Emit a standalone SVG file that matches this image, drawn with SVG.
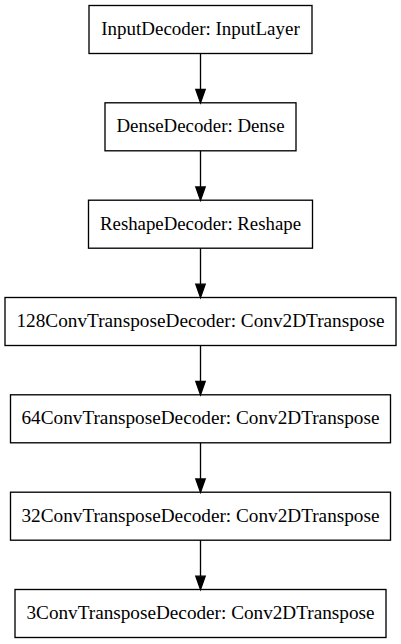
<svg xmlns="http://www.w3.org/2000/svg" width="401" height="644" viewBox="0 0 401 644">
<style>
.box{fill:none;stroke:#000;stroke-width:1.33}
.lbl{font-family:"Liberation Serif","Times New Roman",serif;font-size:19px;text-anchor:middle;fill:#000}
.edge{stroke:#000;stroke-width:1.33;fill:none}
.head{fill:#000;stroke:#000;stroke-width:1.33}
</style>
<rect width="401" height="644" fill="#fff"/>
<g id="connectors">
<line class="edge" x1="200.5" y1="53.5" x2="200.5" y2="89.5"/>
<polygon class="head" points="195.8,89.5 205.2,89.5 200.5,102.8"/>
<line class="edge" x1="200.5" y1="150.8" x2="200.5" y2="186.9"/>
<polygon class="head" points="195.8,186.9 205.2,186.9 200.5,200.2"/>
<line class="edge" x1="200.5" y1="248.2" x2="200.5" y2="284.2"/>
<polygon class="head" points="195.8,284.2 205.2,284.2 200.5,297.5"/>
<line class="edge" x1="200.5" y1="345.5" x2="200.5" y2="381.5"/>
<polygon class="head" points="195.8,381.5 205.2,381.5 200.5,394.8"/>
<line class="edge" x1="200.5" y1="442.8" x2="200.5" y2="478.9"/>
<polygon class="head" points="195.8,478.9 205.2,478.9 200.5,492.2"/>
<line class="edge" x1="200.5" y1="540.2" x2="200.5" y2="576.2"/>
<polygon class="head" points="195.8,576.2 205.2,576.2 200.5,589.5"/>
</g>
<g id="n1"><rect class="box" x="89" y="5.5" width="223" height="48"/><text class="lbl" x="200.5" y="35.1" textLength="198.5" lengthAdjust="spacingAndGlyphs">InputDecoder: InputLayer</text></g>
<g id="n2"><rect class="box" x="105" y="102.8" width="191" height="48"/><text class="lbl" x="200.5" y="132.4" textLength="168" lengthAdjust="spacingAndGlyphs">DenseDecoder: Dense</text></g>
<g id="n3"><rect class="box" x="88.5" y="200.2" width="224" height="48"/><text class="lbl" x="200.5" y="229.8" textLength="201" lengthAdjust="spacingAndGlyphs">ReshapeDecoder: Reshape</text></g>
<g id="n4"><rect class="box" x="5" y="297.5" width="391" height="48"/><text class="lbl" x="200.5" y="327.1" textLength="368" lengthAdjust="spacingAndGlyphs">128ConvTransposeDecoder: Conv2DTranspose</text></g>
<g id="n5"><rect class="box" x="10.5" y="394.8" width="380" height="48"/><text class="lbl" x="200.5" y="424.4" textLength="358" lengthAdjust="spacingAndGlyphs">64ConvTransposeDecoder: Conv2DTranspose</text></g>
<g id="n6"><rect class="box" x="10.5" y="492.2" width="380" height="48"/><text class="lbl" x="200.5" y="521.8" textLength="358" lengthAdjust="spacingAndGlyphs">32ConvTransposeDecoder: Conv2DTranspose</text></g>
<g id="n7"><rect class="box" x="15" y="589.5" width="371" height="48"/><text class="lbl" x="200.5" y="619.1" textLength="348" lengthAdjust="spacingAndGlyphs">3ConvTransposeDecoder: Conv2DTranspose</text></g>
</svg>
